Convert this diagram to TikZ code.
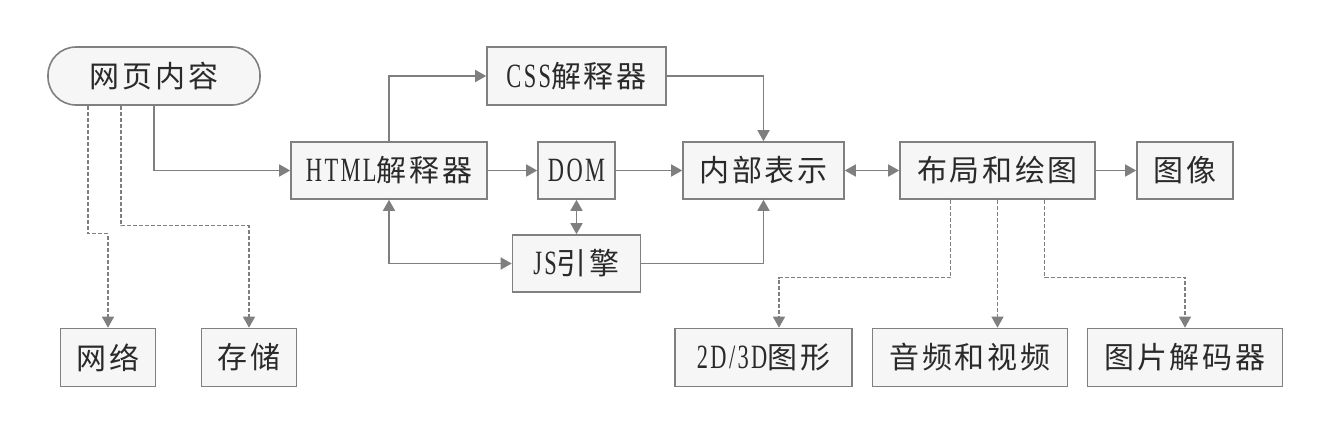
\documentclass[tikz,border=0pt]{standalone}
\usepackage{fontspec}
\newfontfamily\cjk{Noto Sans CJK SC}[LetterSpace=9]
\newfontfamily\latfont{Liberation Serif}[FakeStretch=0.66,LetterSpace=7]
\newcommand\latn[1]{{\latfont\fontsize{34}{34}\selectfont #1}}
\usetikzlibrary{arrows.meta}
\definecolor{boxfill}{HTML}{F6F6F6}
\definecolor{boxline}{HTML}{808080}
\definecolor{arrcol}{HTML}{7F7F7F}
\definecolor{txt}{HTML}{2A2A2A}
\tikzset{
  box/.style={draw=boxline, line width=1.6pt, fill=boxfill, inner sep=0pt,
    minimum height=57pt, text=txt, font=\cjk\fontsize{30}{34}\selectfont},
  roundbox/.style={box, rounded corners=28pt},
  arr/.style={draw=arrcol, line width=1.6pt, -{Triangle[length=11pt,width=12pt]}},
  arrtwo/.style={draw=arrcol, line width=1.6pt, {Triangle[length=11pt,width=12pt]}-{Triangle[length=11pt,width=12pt]}},
  darr/.style={draw=arrcol, line width=1.2pt, dash pattern=on 4pt off 2pt, -{Triangle[length=11pt,width=12pt]}}
}
\begin{document}
\begin{tikzpicture}[x=1pt,y=-1pt]
\useasboundingbox (0,0) rectangle (1334,434);
\node[roundbox, minimum width=212pt, minimum height=58pt] (web) at (154,76) {网页内容};
\node[box, minimum width=179pt, minimum height=58pt] (css) at (576.5,76) {\latn{CSS}解释器};
\node[box, minimum width=196pt] (html) at (389,170.5) {\latn{HTML}解释器};
\node[box, minimum width=77pt] (dom) at (576.5,170.5) {\latn{DOM}};
\node[box, minimum width=161pt] (inner) at (763.5,170.5) {内部表示};
\node[box, minimum width=195pt] (layout) at (997.5,170.5) {布局和绘图};
\node[box, minimum width=96pt] (image) at (1185,170.5) {图像};
\node[box, minimum width=128pt] (js) at (576.5,263.5) {\latn{JS}引擎};
\node[box, minimum width=95pt, minimum height=58pt] (net) at (108,357.5) {网络};
\node[box, minimum width=95pt, minimum height=58pt] (store) at (249,357.5) {存储};
\node[box, minimum width=177pt, minimum height=58pt] (g2d) at (763.5,357.5) {\latn{2D/3D}图形};
\node[box, minimum width=195pt, minimum height=58pt] (av) at (970,357.5) {音频和视频};
\node[box, minimum width=195pt, minimum height=58pt] (dec) at (1185,357.5) {图片解码器};

\draw[arr] (web.south) |- (html.west);
\draw[darr] ([xshift=-66pt]web.south) -- ++(0,128) -| (net.north);
\draw[darr] ([xshift=-33pt]web.south) -- ++(0,120) -| (store.north);
\draw[arr] (html.north) |- (css.west);
\draw[arrtwo] (html.south) |- (js.west);
\draw[arr] (html.east) -- (dom.west);
\draw[arr] (dom.east) -- (inner.west);
\draw[arrtwo] (dom.south) -- (js.north);
\draw[arr] (css.east) -| (inner.north);
\draw[arr] (js.east) -| (inner.south);
\draw[arrtwo] (inner.east) -- (layout.west);
\draw[arr] (layout.east) -- (image.west);
\draw[darr] ([xshift=-47pt]layout.south) -- ++(0,78) -| ([xshift=15.5pt]g2d.north);
\draw[darr] (layout.south) -- (layout.south |- av.north);
\draw[darr] ([xshift=47pt]layout.south) -- ++(0,78) -| (dec.north);
\end{tikzpicture}
\end{document}
